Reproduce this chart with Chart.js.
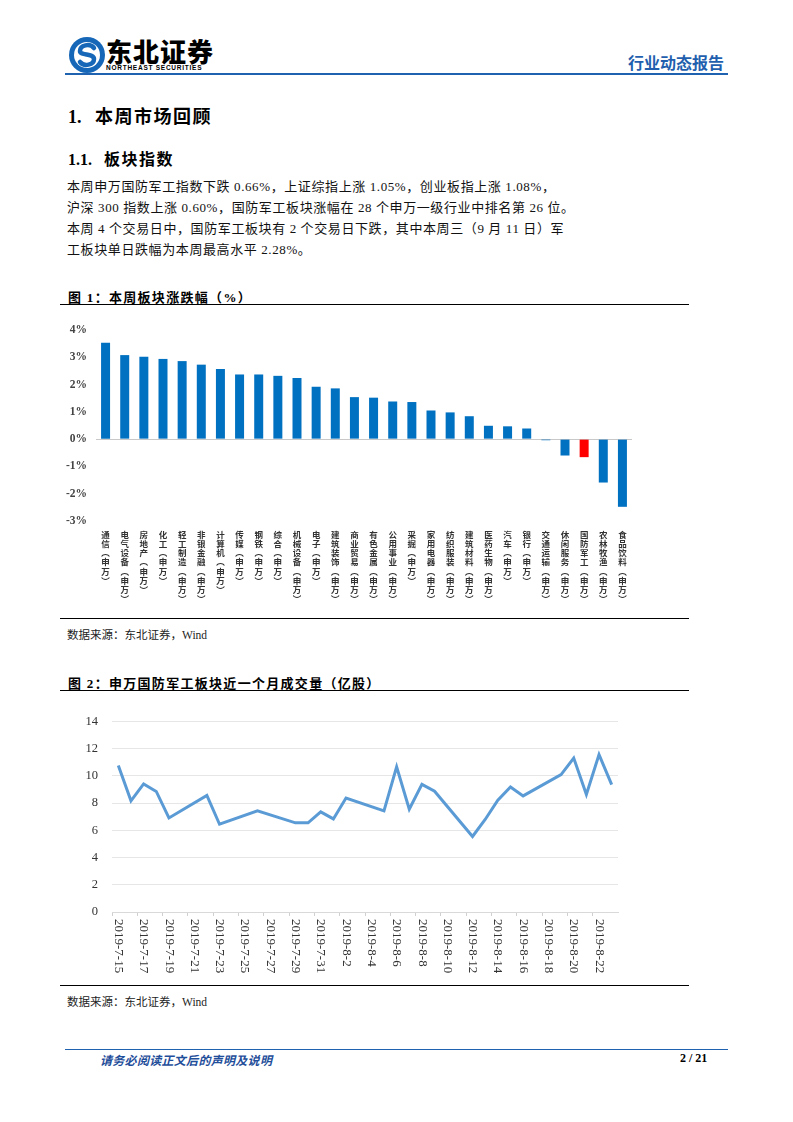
<!DOCTYPE html>
<html>
<head>
<meta charset="utf-8">
<script src="https://cdn.jsdelivr.net/npm/chart.js@4.4.0/dist/chart.umd.min.js"></script>
<style>
  body { margin: 0; background: #fff; }
  #page { position: relative; width: 793px; height: 1122px; overflow: hidden; background: #fff;
          font-family: "Liberation Serif", "Noto Sans CJK SC", serif; color: #000; }
  .abs { position: absolute; white-space: nowrap; }
  .rule { position: absolute; height: 0; }
  .para { font-size: 13px; line-height: 21px; color: #111; letter-spacing: 0.6px; }
  .figtitle { font-size: 13px; font-weight: bold; letter-spacing: 1.3px; }
  .src { font-size: 11.5px; color: #222; }
</style>
</head>
<body>
<div id="page">
  <!-- header -->
  <svg class="abs" style="left:68px;top:36px" width="38" height="38" viewBox="0 0 38 38">
    <circle cx="19" cy="19" r="18" fill="#1667b8"/>
    <circle cx="19" cy="19" r="13" fill="#fff"/>
    <path d="M26 12 C22 7 12 9 12 15 C12 20 26 17 26 23 C26 29 16 31 12 26" stroke="#1667b8" stroke-width="4.5" fill="none" stroke-linecap="round"/>
  </svg>
  <div class="abs" style="left:106px;top:38px;font-size:26px;line-height:26px;font-weight:900;letter-spacing:1px;font-family:'Noto Sans CJK SC';">东北证券</div>
  <div class="abs" style="left:106px;top:64px;font-size:6.5px;line-height:7px;font-weight:bold;letter-spacing:0.75px;font-family:'Liberation Sans';">NORTHEAST SECURITIES</div>
  <div class="abs" style="left:628px;top:52px;font-size:16px;line-height:20px;font-weight:bold;color:#1f5fae;font-family:'Noto Sans CJK SC';">行业动态报告</div>
  <div class="rule" style="left:65px;top:73px;width:663px;border-top:2px solid #1f63b0;"></div>

  <!-- headings and text -->
  <div class="abs" style="left:68px;top:102px;font-size:18px;font-weight:bold;">1.&nbsp;&nbsp;&nbsp;<span style="font-family:'Noto Sans CJK SC';letter-spacing:1.5px">本周市场回顾</span></div>
  <div class="abs" style="left:68px;top:146px;font-size:16px;font-weight:bold;">1.1.&nbsp;&nbsp;&nbsp;<span style="font-family:'Noto Sans CJK SC';font-size:16px;letter-spacing:1.5px">板块指数</span></div>
  <div class="abs para" style="left:67px;top:176px;">本周申万国防军工指数下跌 0.66%，上证综指上涨 1.05%，创业板指上涨 1.08%，</div>
  <div class="abs para" style="left:67px;top:197px;">沪深 300 指数上涨 0.60%，国防军工板块涨幅在 28 个申万一级行业中排名第 26 位。</div>
  <div class="abs para" style="left:67px;top:218px;">本周 4 个交易日中，国防军工板块有 2 个交易日下跌，其中本周三（9 月 11 日）军</div>
  <div class="abs para" style="left:67px;top:239px;">工板块单日跌幅为本周最高水平 2.28%。</div>

  <!-- figure 1 -->
  <div class="abs figtitle" style="left:68px;top:287px;"><span style="font-family:'Noto Sans CJK SC'">图</span> 1：<span style="font-family:'Noto Sans CJK SC'">本周板块涨跌幅（</span>%<span style="font-family:'Noto Sans CJK SC'">）</span></div>
  <div class="rule" style="left:60px;top:304px;width:629px;border-top:1.5px solid #000;"></div>
  <div class="abs" style="left:60px;top:310px;width:630px;height:305px;"><canvas id="c1"></canvas></div>
  <div class="rule" style="left:60px;top:618px;width:629px;border-top:1.5px solid #000;"></div>
  <div class="abs src" style="left:67px;top:626px;"><span style="font-family:'Noto Sans CJK SC'">数据来源：东北证券，</span>Wind</div>

  <!-- figure 2 -->
  <div class="abs figtitle" style="left:68px;top:673px;"><span style="font-family:'Noto Sans CJK SC'">图</span> 2：<span style="font-family:'Noto Sans CJK SC'">申万国防军工板块近一个月成交量（亿股）</span></div>
  <div class="rule" style="left:60px;top:690px;width:629px;border-top:1.5px solid #000;"></div>
  <div class="abs" style="left:60px;top:700px;width:630px;height:286px;"><canvas id="c2"></canvas></div>
  <div class="rule" style="left:60px;top:985px;width:629px;border-top:1.5px solid #000;"></div>
  <div class="abs src" style="left:67px;top:993px;"><span style="font-family:'Noto Sans CJK SC'">数据来源：东北证券，</span>Wind</div>

  <!-- footer -->
  <div class="rule" style="left:65px;top:1049px;width:663px;border-top:1.5px solid #1f63b0;"></div>
  <div class="abs" style="left:100px;top:1051px;font-size:12px;font-weight:bold;color:#1f4e9a;font-family:'Noto Sans CJK SC';font-style:italic;letter-spacing:0.3px;">请务必阅读正文后的声明及说明</div>
  <div class="abs" style="left:680px;top:1051px;font-size:12px;font-weight:bold;">2 / 21</div>
</div>

<script>
// figure 1: weekly change by SW sector (%)
const sectors = ['通信', '电气设备', '房地产', '化工', '轻工制造', '非银金融', '计算机',
  '传媒', '钢铁', '综合', '机械设备', '电子', '建筑装饰', '商业贸易', '有色金属', '公用事业',
  '采掘', '家用电器', '纺织服装', '建筑材料', '医药生物', '汽车', '银行', '交通运输',
  '休闲服务', '国防军工', '农林牧渔', '食品饮料'];
const weeklyChange = [3.53, 3.08, 3.02, 2.94, 2.86, 2.73, 2.57, 2.37, 2.37, 2.32, 2.24,
  1.92, 1.86, 1.54, 1.52, 1.38, 1.36, 1.05, 0.98, 0.84, 0.49, 0.47, 0.39, -0.04, -0.60,
  -0.66, -1.59, -2.48];
const highlightSector = '国防军工';

// figure 2: daily volume (100m shares)
const calendarDays = ['2019-7-15', '2019-7-16', '2019-7-17', '2019-7-18', '2019-7-19',
  '2019-7-20', '2019-7-21', '2019-7-22', '2019-7-23', '2019-7-24', '2019-7-25', '2019-7-26',
  '2019-7-27', '2019-7-28', '2019-7-29', '2019-7-30', '2019-7-31', '2019-8-1', '2019-8-2',
  '2019-8-3', '2019-8-4', '2019-8-5', '2019-8-6', '2019-8-7', '2019-8-8', '2019-8-9',
  '2019-8-10', '2019-8-11', '2019-8-12', '2019-8-13', '2019-8-14', '2019-8-15', '2019-8-16',
  '2019-8-17', '2019-8-18', '2019-8-19', '2019-8-20', '2019-8-21', '2019-8-22', '2019-8-23'];
const tradeDates = ['2019-7-15', '2019-7-16', '2019-7-17', '2019-7-18', '2019-7-19',
  '2019-7-22', '2019-7-23', '2019-7-26', '2019-7-29', '2019-7-30', '2019-7-31', '2019-8-1',
  '2019-8-2', '2019-8-5', '2019-8-6', '2019-8-7', '2019-8-8', '2019-8-9', '2019-8-12',
  '2019-8-13', '2019-8-14', '2019-8-15', '2019-8-16', '2019-8-19', '2019-8-20', '2019-8-21',
  '2019-8-22', '2019-8-23'];
const volume = [10.76, 8.17, 9.41, 8.86, 6.91, 8.57, 6.45, 7.43, 6.55, 6.55, 7.36, 6.84,
  8.38, 7.43, 10.67, 7.55, 9.38, 8.88, 5.55, 6.8, 8.21, 9.19, 8.53, 10.1, 11.31, 8.64,
  11.57, 9.36];

const ctx1 = document.getElementById('c1');
const chart1 = new Chart(ctx1, {
  type: 'bar',
  data: {
    labels: sectors.map(s => Array.from(s + '︵申万︶')),
    datasets: [{
      data: weeklyChange,
      backgroundColor: sectors.map(s => s === highlightSector ? '#FF0000' : '#0070C0'),
      barPercentage: 0.47,
      categoryPercentage: 1
    }]
  },
  options: {
    responsive: true,
    maintainAspectRatio: false,
    animation: false,
    layout: { padding: { top: 20, right: 58, left: 0, bottom: 0 } },
    plugins: { legend: { display: false }, tooltip: { enabled: false } },
    scales: {
      x: {
        grid: { display: false },
        border: { display: false },
        ticks: {
          autoSkip: false, maxRotation: 0, minRotation: 0, padding: 1,
          color: '#333',
          font: { family: 'Noto Sans CJK SC', size: 8.5, weight: 'bold', lineHeight: 1.08 }
        },
        afterFit: s => { s.height = 94; }
      },
      y: {
        min: -3, max: 4,
        ticks: {
          stepSize: 1, padding: 9, color: '#444',
          font: { family: 'Liberation Serif', size: 11.5, weight: 'bold' },
          callback: v => v + '%'
        },
        grid: {
          drawTicks: false,
          color: c => c.tick && c.tick.value === 0 ? '#c8c8c8' : 'rgba(0,0,0,0)'
        },
        border: { display: false },
        afterFit: s => { s.width = 36; }
      }
    }
  }
});

// x labels read top-to-bottom (rotated clockwise), every second day
const dateLabels = {
  id: 'dateLabels',
  afterDraw(chart) {
    const c = chart.ctx;
    const xs = chart.scales.x;
    const top = chart.chartArea.bottom + 7;
    c.save();
    c.fillStyle = '#333';
    c.font = '13px "Liberation Serif"';
    c.textAlign = 'left';
    c.textBaseline = 'middle';
    calendarDays.forEach((d, i) => {
      if (i % 2) return;
      const x = xs.getPixelForValue(i);
      c.save();
      c.translate(x, top);
      c.rotate(Math.PI / 2);
      c.fillText(d, 0, 0);
      c.restore();
    });
    c.restore();
  }
};

const ctx2 = document.getElementById('c2');
const chart2 = new Chart(ctx2, {
  type: 'line',
  data: {
    labels: calendarDays,
    datasets: [{
      data: tradeDates.map((d, i) => ({ x: d, y: volume[i] })),
      borderColor: '#5B9BD5',
      borderWidth: 3,
      pointRadius: 0,
      tension: 0,
      fill: false
    }]
  },
  options: {
    responsive: true,
    maintainAspectRatio: false,
    animation: false,
    layout: { padding: { top: 16, right: 72, left: 0, bottom: 0 } },
    plugins: { legend: { display: false }, tooltip: { enabled: false } },
    scales: {
      x: {
        offset: true,
        ticks: { display: false },
        grid: {
          offset: true,
          drawOnChartArea: false,
          tickLength: 4,
          color: c => c.index % 2 === 0 ? '#d0d0d0' : 'rgba(0,0,0,0)'
        },
        border: { display: true, color: '#d9d9d9' },
        afterFit: s => { s.height = 74; }
      },
      y: {
        min: 0, max: 14,
        ticks: {
          stepSize: 2, padding: 14, color: '#333',
          font: { family: 'Liberation Serif', size: 12.5 }
        },
        grid: { drawTicks: false, color: '#e6e6e6' },
        border: { display: false },
        afterFit: s => { s.width = 52; }
      }
    }
  },
  plugins: [dateLabels]
});
</script>
</body>
</html>
